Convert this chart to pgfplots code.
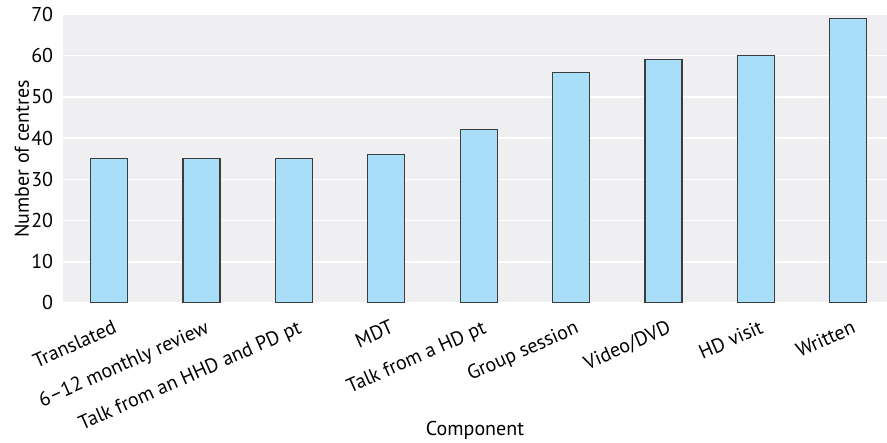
\documentclass[border=0pt]{standalone}
\usepackage{fontspec}
\setmainfont{PT Sans}
\usepackage{pgfplots}
\pgfplotsset{compat=1.18}
\definecolor{bggrey}{HTML}{EFEFF1}
\definecolor{barblue}{HTML}{A9DEF9}
\definecolor{barline}{HTML}{3C3C3C}
\begin{document}
\fontsize{20}{24}\selectfont
\begin{tikzpicture}
\begin{axis}[
  name=main,
  scale only axis,
  width=824pt, height=288.5pt,
  xmin=-0.5, xmax=8.42,
  ymin=0, ymax=70,
  ytick={0,10,...,70},
  xtick={0,...,8},
  xticklabels={Translated,6–12 monthly review,Talk from an HHD and PD pt,MDT,Talk from a HD pt,Group session,Video/DVD,HD visit,Written},
  xtick pos=bottom,
  ytick style={draw=none},
  major x tick style={draw=none},
  extra x ticks={0.5,1.5,...,7.5},
  extra x tick labels={},
  extra x tick style={major tick length=8pt, tick style={white, line width=1.5pt}, grid=none},
  axis line style={draw=none},
  axis background/.style={fill=bggrey},
  ymajorgrids,
  major grid style={white, line width=1.5pt},
  xticklabel style={rotate=24, anchor=north east, inner sep=1pt, xshift=-3pt, yshift=-15pt},
  yticklabel style={xshift=-3pt},
  /pgf/number format/assume math mode=true,
  ticklabel style={font=\fontsize{20}{24}\selectfont},
  label style={font=\fontsize{20}{24}\selectfont},
  xlabel={Component},
  ylabel={Number of centres},
  xlabel style={at={(axis description cs:0.5,0)}, anchor=center, yshift=-127pt},
  ylabel style={at={(axis description cs:0,0.5)}, anchor=center, yshift=41pt},
]
\addplot[ybar, bar width=37pt, fill=barblue, draw=barline, line width=1.2pt]
  coordinates {(0,35) (1,35) (2,35) (3,36) (4,42) (5,56) (6,59) (7,60) (8,69)};
\end{axis}
\pgfresetboundingbox
\path[use as bounding box] ([shift={(-63pt,-140pt)}]main.south west) rectangle ([shift={(0pt,14.5pt)}]main.north east);
\end{tikzpicture}
\end{document}
